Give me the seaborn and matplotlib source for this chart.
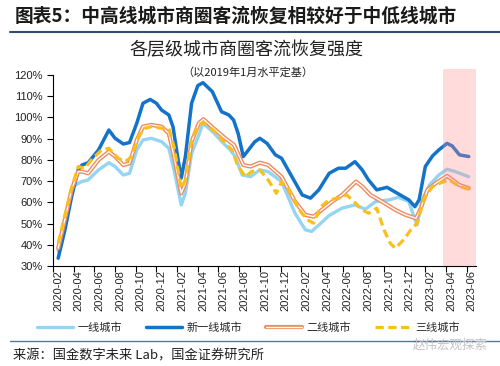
import pandas as pd
import seaborn as sns
import matplotlib.pyplot as plt
from matplotlib.lines import Line2D

# x = months since 2020-02
tick_labels = ['2020-02', '2020-04', '2020-06', '2020-08', '2020-10', '2020-12',
               '2021-02', '2021-04', '2021-06', '2021-08', '2021-10', '2021-12',
               '2022-02', '2022-04', '2022-06', '2022-08', '2022-10', '2022-12',
               '2023-02', '2023-04', '2023-06']

# 一线城市
t_tier1 = [0, 0.65, 1.45, 2.26, 2.9, 3.9, 4.9, 5.5, 6.3, 6.9, 7.6, 8.2, 9.0, 10.0, 10.7,
           11.2, 11.9, 12.3, 12.9, 13.6, 14.0, 15.0, 16.15, 16.6, 17.1, 17.8, 18.6, 19.5,
           20.3, 21.6, 22.9, 23.9, 24.5, 25.4, 26.2, 27.45, 28.7, 29.7, 30.7, 32.0, 32.9,
           33.9, 34.4, 34.7, 35.2, 35.9, 36.8, 37.6, 38.4, 39.7]
v_tier1 = [37, 52, 67.5, 69.8, 70.6, 75.3, 78.7, 76.9, 72.9, 73.7, 84.7, 89.4, 90.2, 88.6, 85.5,
           75.3, 58.8, 64.3, 83.1, 91.8, 97.3, 93, 87, 85, 81.6, 72.9, 72.1, 75.3,
           74.5, 69.8, 54.9, 47.1, 46.3, 50.2, 53.8, 57.3, 58.8, 56.8, 60.4, 61.2, 62.4,
           60.4, 53.3, 49.4, 61.2, 68.2, 72.9, 75.6, 74.5, 72.1]

# 新一线城市
t_new1 = [0, 0.65, 1.3, 1.94, 2.3, 2.9, 3.9, 4.9, 5.5, 6.3, 6.9, 7.6, 8.2, 8.9, 9.5, 10.0,
          10.7, 11.1, 11.6, 11.9, 12.3, 12.9, 13.5, 14.0, 14.9, 15.8, 16.5, 16.96, 17.4,
          17.9, 18.4, 19.0, 19.5, 20.2, 21.0, 21.6, 22.6, 23.6, 24.4, 25.2, 26.2, 27.1,
          27.8, 28.7, 29.4, 30.0, 30.8, 31.8, 32.9, 33.9, 34.5, 34.9, 35.5, 36.2, 36.8,
          37.6, 38.1, 38.8, 39.7]
v_new1 = [33.7, 47, 62.7, 75.3, 77.6, 78.7, 84.7, 94.1, 90.2, 87.5, 88.2, 97.3, 106.7, 108.5, 106.7, 103.5,
          101.2, 95.7, 80, 71.4, 81.6, 106.7, 115, 116.4, 112.2, 102.7, 101.2, 98.8, 92.5,
          81.6, 84.7, 88.5, 90.2, 87.8, 82.4, 80.8, 72.1, 63.5, 62, 65.9, 73.7, 76.1,
          76.1, 79.2, 75.3, 70.6, 65.9, 67.1, 64, 61.2, 58, 61.2, 76.9, 81.9, 84.7,
          87.8, 86.6, 82.4, 81.6]

# 二线城市
t_tier2 = [0, 0.65, 1.3, 1.94, 2.3, 2.9, 3.9, 4.9, 5.5, 6.3, 6.9, 7.6, 8.2, 9.0, 10.0, 10.7,
           11.2, 11.9, 12.3, 12.9, 13.6, 14.05, 15.0, 16.15, 17.0, 17.9, 18.6, 19.5, 20.3,
           21.6, 22.9, 23.9, 24.7, 25.5, 26.5, 27.45, 28.3, 28.8, 29.4, 30.2, 31.3, 32.6,
           33.6, 34.6, 35.0, 35.7, 36.5, 37.6, 38.8, 39.7]
v_tier2 = [38.4, 52, 66, 74.5, 74.5, 73.7, 80, 83.9, 81.6, 77.6, 78.4, 89.4, 95.7, 96.5, 95.7, 92.5,
           81.6, 64.3, 69, 88.6, 97.3, 99.2, 95, 90.2, 87.1, 77.6, 76.9, 78.7, 77.6,
           72.1, 60.4, 54.1, 53.3, 56.5, 60.4, 63.5, 67.5, 69.8, 67.5, 63.5, 60.4, 56.5,
           54.1, 52.5, 56.5, 65.9, 69, 72.5, 68.2, 66.7]

# 三线城市
t_tier3 = [0, 0.65, 1.3, 1.94, 2.6, 3.2, 4.2, 4.9, 5.8, 6.5, 7.1, 7.75, 8.4, 9.0, 10.0, 10.7,
           11.2, 11.9, 12.3, 12.9, 13.6, 14.05, 15.0, 15.8, 16.8, 17.4, 18.1, 18.7, 19.5,
           20.3, 21.1, 21.6, 22.3, 23.3, 24.1, 24.7, 25.4, 26.2, 27.1, 27.9, 28.6, 29.4,
           30.0, 30.8, 31.5, 32.1, 32.6, 33.4, 34.1, 34.7, 35.4, 36.2, 37.1, 37.8, 38.8, 39.7]
v_tier3 = [40.8, 54, 67, 76.9, 76.1, 80, 84.7, 85.5, 80.8, 79.2, 81.6, 91, 94.9, 95.7, 94.9, 94.9,
           86.3, 66.7, 70.6, 89.4, 96.5, 97.6, 94, 89.8, 84.7, 76.9, 72.1, 74.5, 75.3,
           70.6, 64.3, 69.8, 65.9, 56.5, 51.8, 50.2, 58, 61.2, 62, 63.5, 60.4, 56.5,
           54.9, 57.3, 47.1, 40.8, 38.4, 42.4, 47.1, 50.2, 62, 67.5, 69.4, 70.6, 67.5, 66.2]

sns.set_theme(style='white')
plt.rcParams['font.family'] = ['Liberation Sans', 'Noto Sans CJK SC']
cjk = ['Noto Sans CJK SC', 'DejaVu Sans']

c_tier1 = '#93d5f3'
c_new1 = '#1373c9'
c_tier2 = '#ee8a5e'
c_tier3 = '#fbbf1a'

fig = plt.figure(figsize=(5, 3.66), dpi=100)
ax = fig.add_axes([0.106, 0.273, 0.846, 0.522])

sns.lineplot(x=t_tier1, y=v_tier1, ax=ax, color=c_tier1, lw=2.4, sort=False,
             solid_joinstyle='round', solid_capstyle='round')
sns.lineplot(x=t_new1, y=v_new1, ax=ax, color=c_new1, lw=2.5, sort=False,
             solid_joinstyle='round', solid_capstyle='round')
sns.lineplot(x=t_tier2, y=v_tier2, ax=ax, color=c_tier2, lw=3.0, sort=False,
             solid_joinstyle='round')
sns.lineplot(x=t_tier2, y=v_tier2, ax=ax, color='white', lw=1.0, sort=False,
             solid_joinstyle='round')
sns.lineplot(x=t_tier3, y=v_tier3, ax=ax, color=c_tier3, lw=2.3, sort=False,
             linestyle=(0, (2.6, 1.4)))

span = ax.axvspan(37.2, 40.4, ymin=0, ymax=1.03, color='#ff8a8a', alpha=0.3, lw=0, zorder=5)
span.set_clip_on(False)

ax.set_xlim(-0.5, 40.4)
ax.set_ylim(30, 120)
ax.set_xticks(range(0, 41, 2))
ax.set_xticklabels(tick_labels, rotation=90, fontsize=8, color='#222222')
ax.set_xticks([x - 0.5 for x in range(0, 41, 2)], minor=True)
ax.tick_params(axis='x', which='major', length=0, pad=3)
ax.tick_params(axis='x', which='minor', length=4, width=0.8, direction='out', color='black', bottom=True)
ax.set_yticks(range(30, 121, 10))
ax.set_yticklabels([f'{v}%' for v in range(30, 121, 10)], fontsize=8, color='#222222')
ax.tick_params(axis='y', length=4, width=0.8, direction='out', color='black', left=True)
for s in ['top', 'right']:
    ax.spines[s].set_visible(False)
for s in ['left', 'bottom']:
    ax.spines[s].set_color('black')
    ax.spines[s].set_linewidth(0.8)
ax.set_xlabel('')
ax.set_ylabel('')

h1 = Line2D([], [], color=c_tier1, lw=2.4)
h2 = Line2D([], [], color=c_new1, lw=2.5)
h3 = (Line2D([], [], color=c_tier2, lw=3.0), Line2D([], [], color='white', lw=1.0))
h4 = Line2D([], [], color=c_tier3, lw=2.3, linestyle=(0, (2.6, 1.4)))
fig.legend([h1, h2, h3, h4], ['一线城市', '新一线城市', '二线城市', '三线城市'],
           loc='center', bbox_to_anchor=(0.497, 0.104), ncol=4, frameon=False,
           handlelength=3.2, columnspacing=2.2, handletextpad=0.4,
           prop={'family': cjk, 'size': 8})

fig.text(15 / 500, 1 - 16 / 366, '图表5：中高线城市商圈客流恢复相较好于中低线城市',
         ha='left', va='center', fontsize=13.5, weight='bold', color='#1a1a1a', family=cjk)
fig.add_artist(Line2D([10 / 500, 1], [1 - 32 / 366, 1 - 32 / 366], color='#2f4e6f', lw=1.5))
fig.text(247 / 500, 1 - 50 / 366, '各层级城市商圈客流恢复强度', ha='center', va='center',
         fontsize=13, color='#222222', family=cjk)
fig.text(248 / 500, 1 - 72 / 366, '（以2019年1月水平定基）', ha='center', va='center',
         fontsize=8, color='#222222', family=cjk)
fig.add_artist(Line2D([10 / 500, 1], [1 - 341 / 366, 1 - 341 / 366], color='#58789a', lw=1.0))
fig.text(13 / 500, 1 - 356 / 366, '来源：国金数字未来 Lab，国金证券研究所', ha='left', va='center',
         fontsize=9.5, color='#222222', family=cjk)
fig.text(450 / 500, 1 - 345 / 366, '赵伟宏观探索', ha='center', va='center',
         fontsize=9, color='#c4c4c4', family=cjk)

fig.savefig('out.png', dpi=100)
